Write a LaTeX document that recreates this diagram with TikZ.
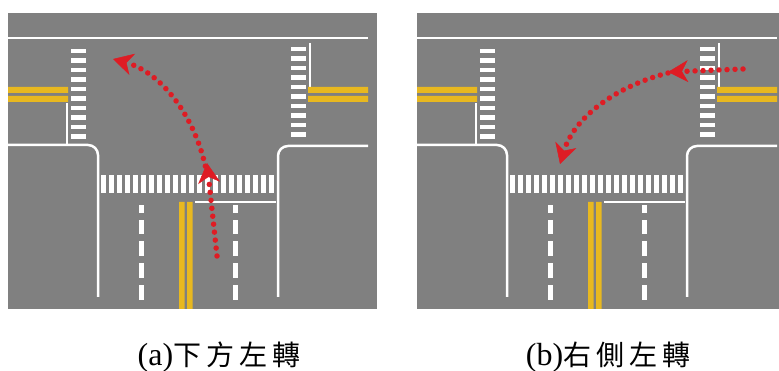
\documentclass[tikz,border=0pt]{standalone}
\usepackage{fontspec}
\setmainfont{Liberation Serif}
\newfontfamily\cjk{Noto Sans CJK TC}
\usetikzlibrary{arrows.meta}

\definecolor{asphalt}{RGB}{128,128,128}
\definecolor{laneyellow}{RGB}{232,184,32}
\definecolor{pathred}{RGB}{222,28,36}

\tikzset{
  curb/.style={white, line width=2.5pt},
  dots/.style={pathred, line width=5.5pt, dash pattern=on 0pt off 8pt, line cap=round,
    -{Stealth[length=20pt,width=22pt,inset=6pt,line width=0.5pt]}},
  caption/.style={anchor=base, inner sep=0pt},
}

\begin{document}
\begin{tikzpicture}[x=1pt,y=-1pt]
\useasboundingbox (0,0) rectangle (779,371);
\clip (0,0) rectangle (779,371);

% two identical junctions, side by side
\foreach \dx in {0,409} {
\begin{scope}[xshift=\dx]
% road surface
\fill[asphalt] (8,13) rectangle (377,309);

% edge lines, stop lines and kerbs
\draw[curb] (8,38) -- (368,38);
\draw[curb] (67,103) -- (67,144);
\draw[curb] (310,43) -- (310,88);
\draw[curb] (195,202) -- (276,202);
\draw[curb, rounded corners=10pt] (8,145) -- (98,145) -- (98,297);
\draw[curb, rounded corners=10pt] (368,146) -- (278,146) -- (278,297);

% double yellow centre lines
\fill[laneyellow] (8,87) rectangle (68,93) (8,96) rectangle (68,102);
\fill[laneyellow] (308,87) rectangle (368,93) (308,96) rectangle (368,102);
\fill[laneyellow] (179,202) rectangle (184.5,309) (187,202) rectangle (192.5,309);

% zebra crossings
\foreach \k in {0,...,9} {
  \fill[white] (71,49+9.5*\k) rectangle ++(15,4.5);
  \fill[white] (291,47+9.5*\k) rectangle ++(15,4.5);
}
\foreach \k in {0,...,21}
  \fill[white] (101+8*\k,175) rectangle ++(4.5,18);

% broken lane lines
\foreach \ya/\len in {205/8,220/14,241/15,263/15,285/15} {
  \fill[white] (138.5,\ya) rectangle ++(5,\len);
  \fill[white] (232.5,\ya) rectangle ++(5,\len);
}
\end{scope}
}

% (a) left turn coming from the south
\draw[dots] (217,256) -- (207,163);
\draw[dots] (207,174) .. controls (196,115) and (160,72) .. (113,59);

% (b) left turn coming from the east
\draw[dots] (743,69) -- (668,72);
\draw[dots] (668,73) .. controls (620,85) and (575,115) .. (560,164);

% captions
\node[caption] (capA) at (219,365) {\fontsize{32}{32}\selectfont(a)\cjk\fontsize{28}{28}\selectfont 下\hspace{5pt}方\hspace{5pt}左\hspace{5pt}轉};
\node[caption] (capB) at (608,365) {\fontsize{32}{32}\selectfont(b)\cjk\fontsize{28}{28}\selectfont 右\hspace{5pt}側\hspace{5pt}左\hspace{5pt}轉};

\end{tikzpicture}
\end{document}
